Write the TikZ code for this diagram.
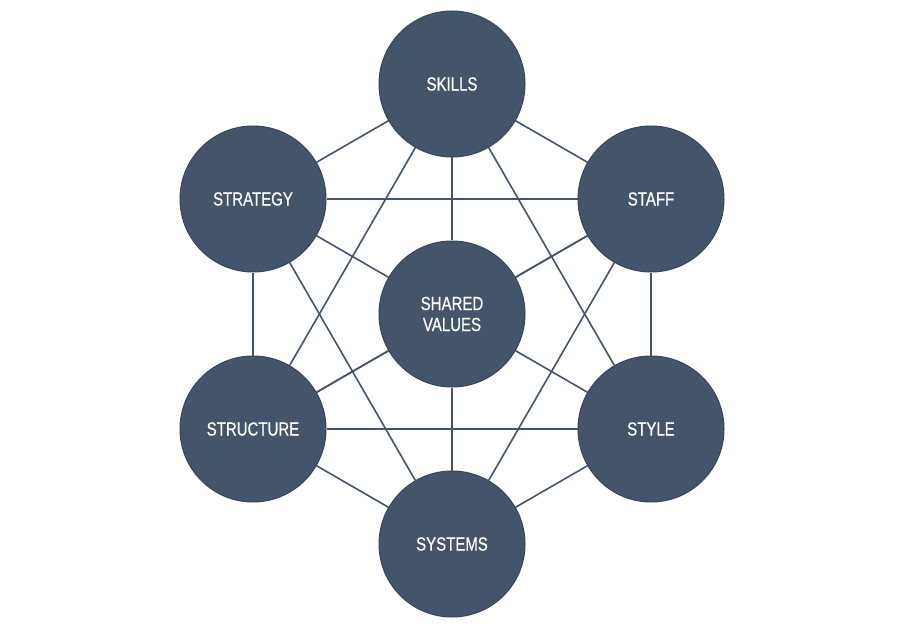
\documentclass[tikz,border=0pt]{standalone}
\usepackage{fontspec}
\setsansfont{Liberation Sans}[FakeStretch=0.79, FakeBold=0.6]
\usetikzlibrary{backgrounds}
\definecolor{slate}{HTML}{44546A}
\definecolor{slateedge}{HTML}{36445A}

\begin{document}
\begin{tikzpicture}[x=1pt, y=-1pt,
    sphere/.style={circle, fill=slate, draw=slateedge, line width=1pt,
        minimum size=146pt, inner sep=0pt, text=white, align=center,
        font=\sffamily\fontsize{19}{21}\selectfont},
    link/.style={draw=slate, line width=1.6pt}]
    % Canvas
    \useasboundingbox (0,0) rectangle (904,628);

    % Centre
    \node[sphere] (shared) at (452,314) {SHARED\\VALUES};

    % Outer ring
    \node[sphere] (skills)    at (452,84)  {SKILLS};
    \node[sphere] (staff)     at (651,199) {STAFF};
    \node[sphere] (style)     at (651,429) {STYLE};
    \node[sphere] (systems)   at (452,544) {SYSTEMS};
    \node[sphere] (structure) at (253,429) {STRUCTURE};
    \node[sphere] (strategy)  at (253,199) {STRATEGY};

    % Links
    \begin{scope}[on background layer]
        \foreach \a in {skills,staff,style,systems,structure,strategy}
            \draw[link] (shared) -- (\a);
        \foreach \a/\b in {skills/staff, skills/style, skills/structure, skills/strategy,
                staff/style, staff/systems, staff/structure, staff/strategy,
                style/systems, style/structure,
                systems/structure, systems/strategy,
                structure/strategy}
            \draw[link] (\a) -- (\b);
    \end{scope}
\end{tikzpicture}
\end{document}
